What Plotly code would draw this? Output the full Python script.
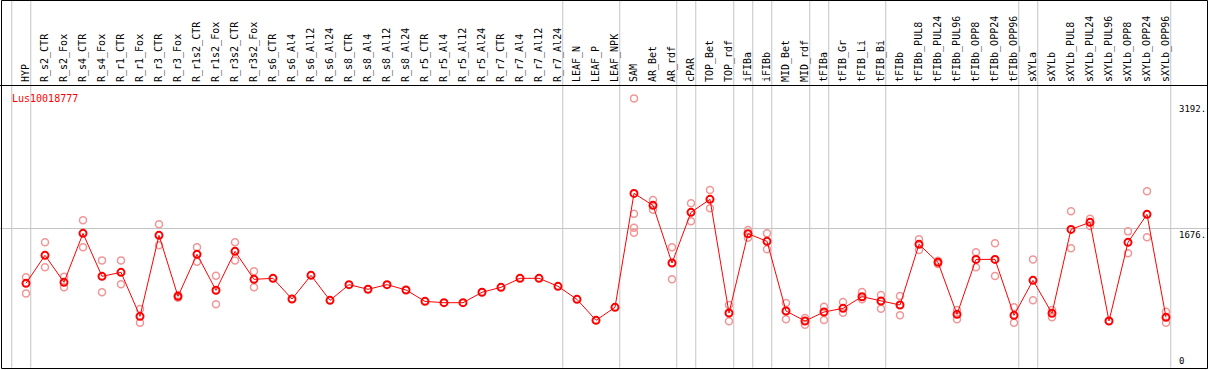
import plotly.graph_objects as go

categories = ["HYP", "R_s2_CTR", "R_s2_Fox", "R_s4_CTR", "R_s4_Fox", "R_r1_CTR", "R_r1_Fox",
              "R_r3_CTR", "R_r3_Fox", "R_r1s2_CTR", "R_r1s2_Fox", "R_r3s2_CTR", "R_r3s2_Fox",
              "R_s6_CTR", "R_s6_Al4", "R_s6_Al12", "R_s6_Al24", "R_s8_CTR", "R_s8_Al4", "R_s8_Al12",
              "R_s8_Al24", "R_r5_CTR", "R_r5_Al4", "R_r5_Al12", "R_r5_Al24", "R_r7_CTR", "R_r7_Al4",
              "R_r7_Al12", "R_r7_Al24", "LEAF_N", "LEAF_P", "LEAF_NPK", "SAM", "AR_Bet", "AR_rdf",
              "cPAR", "TOP_Bet", "TOP_rdf", "iFIBa", "iFIBb", "MID_Bet", "MID_rdf", "tFIBa",
              "tFIB_Gr", "tFIB_Li", "tFIB_Bi", "tFIBb", "tFIBb_PUL8", "tFIBb_PUL24", "tFIBb_PUL96",
              "tFIBb_OPP8", "tFIBb_OPP24", "tFIBb_OPP96", "sXYLa", "sXYLb", "sXYLb_PUL8",
              "sXYLb_PUL24", "sXYLb_PUL96", "sXYLb_OPP8", "sXYLb_OPP24", "sXYLb_OPP96"]

mean_values = [1014, 1351, 1026, 1615, 1098, 1146, 617, 1591, 857, 1363, 930, 1399, 1062,
               1074, 825, 1110, 809, 998, 942, 998, 934, 797, 781, 781, 906, 966, 1074, 1074, 978, 821, 569,
               725, 2096, 1952, 1258, 1868, 2024, 657, 1611, 1519, 681, 561, 669, 713, 853, 801, 753,
               1483, 1266, 641, 1302, 1302, 629, 1050, 653, 1663, 1748, 561, 1507, 1844, 605]

N = None
rep_high = [1086, 1507, 1094, 1772, 1290, 1290, 705, 1724, 873, 1447, 1106, 1507, 1158,
            N, N, N, N, N, N, N, N, N, N, N, N, N, N, N, N, N, N,
            N, 3239, 2016, 1447, 1976, 2137, 753, 1655, 1615, 777, 597, 733, 789, 909, 873, 861,
            1543, 1286, 693, 1387, 1495, 725, 1302, 693, 1880, 1792, N, 1639, 2121, 673]
rep_low = [893, 1206, 966, 1447, 906, 1002, 541, 1471, 841, 1274, 761, 1290, 966,
           N, N, N, N, N, N, N, N, N, N, N, N, N, N, N, N, N, N,
           N, 1623, 1900, 1062, 1760, 1916, 557, 1563, 1423, 581, 516, 573, 661, 821, 709, 629,
           1415, 1246, 581, 1206, 1102, 541, 809, 605, 1435, 1703, N, 1375, 1567, 541]
extra_rep_categories = ["SAM", "SAM"]
extra_rep_values = [1852, 1683]

# categories after which a grey separator is drawn (None = before the first one)
group_ends = [None, "HYP", "R_r7_Al24", "LEAF_NPK", "AR_rdf", "cPAR", "TOP_rdf", "iFIBa",
              "iFIBb", "MID_rdf", "tFIBa", "tFIB_Bi", "tFIBb_OPP96", "sXYLa", "sXYLb_OPP96"]

y_tick_values = [3192, 1676, 0]
y_tick_labels = ["3192.", "1676.", "0"]
gene_name = "Lus10018777"

W, H = 1209, 370
MAIN = "#ff0000"
REP = "rgb(240,150,150)"
GRID = "#c4c4c4"
MONO = "DejaVu Sans Mono"

fig = go.Figure()

rep_x, rep_y = [], []
for c, a, b in zip(categories, rep_high, rep_low):
    for v in (a, b):
        if v is not None:
            rep_x.append(c)
            rep_y.append(v)
rep_x += extra_rep_categories
rep_y += extra_rep_values

fig.add_trace(go.Scatter(x=rep_x, y=rep_y, mode="markers",
                         marker=dict(symbol="circle-open", size=7, color=REP, line=dict(width=1.5, color=REP)),
                         showlegend=False, hoverinfo="x+y"))
fig.add_trace(go.Scatter(x=categories, y=mean_values, mode="lines+markers",
                         line=dict(color=MAIN, width=1),
                         marker=dict(symbol="circle-open", size=7, color=MAIN, line=dict(width=2, color=MAIN)),
                         showlegend=False, hoverinfo="x+y"))

# geometry (pixels)
x0_px, step_px = 26.0, 19.0
header_px = 85.0
bottom_px = 367.6
ymax = 3400

def py(p):
    return (H - p) / H

shapes = []
for g in group_ends:
    xi = -1 if g is None else categories.index(g)
    shapes.append(dict(type="line", xref="x", yref="paper", x0=xi + 0.25, x1=xi + 0.25,
                       y0=py(bottom_px), y1=1, line=dict(color=GRID, width=1), layer="below"))
# header separator and frame
shapes.append(dict(type="line", xref="paper", yref="paper", x0=0, x1=1207.5 / W,
                   y0=py(header_px + 0.5), y1=py(header_px + 0.5), line=dict(color="black", width=1)))
shapes.append(dict(type="rect", xref="paper", yref="paper", x0=1.5 / W, x1=1207.5 / W,
                   y0=py(368.5), y1=py(0.5), line=dict(color="black", width=1)))

annotations = [dict(text=gene_name, xref="paper", yref="paper", x=10 / W, y=py(91),
                    xanchor="left", yanchor="top", showarrow=False,
                    font=dict(family=MONO, size=10, color=MAIN))]
for v, t in zip(y_tick_values, y_tick_labels):
    annotations.append(dict(text=t, xref="paper", yref="y", x=1177 / W, y=v,
                            xanchor="left", yanchor="bottom" if v == 0 else "top",
                            showarrow=False, font=dict(family=MONO, size=9, color="black")))

left = -x0_px / step_px
right = (W - x0_px) / step_px

fig.update_layout(
    width=W, height=H, margin=dict(l=0, r=0, t=0, b=0, autoexpand=False),
    paper_bgcolor="white", plot_bgcolor="white",
    shapes=shapes, annotations=annotations,
    xaxis=dict(type="category", categoryorder="array", categoryarray=categories,
               range=[left, right], side="top", tickangle=-90, showgrid=False, zeroline=False,
               showline=False, ticks="", ticklabelstandoff=2, automargin=False,
               tickfont=dict(family=MONO, size=10, color="black"), domain=[0, 1]),
    yaxis=dict(range=[0, ymax], domain=[py(bottom_px), py(header_px)], tickvals=[1676],
               showticklabels=False, showgrid=True, gridcolor=GRID, gridwidth=1,
               zeroline=False, showline=False, ticks="", automargin=False),
)

fig.write_html("out.html", config={"displayModeBar": False},
               post_script="document.body.style.margin='0';document.body.style.padding='0';")
